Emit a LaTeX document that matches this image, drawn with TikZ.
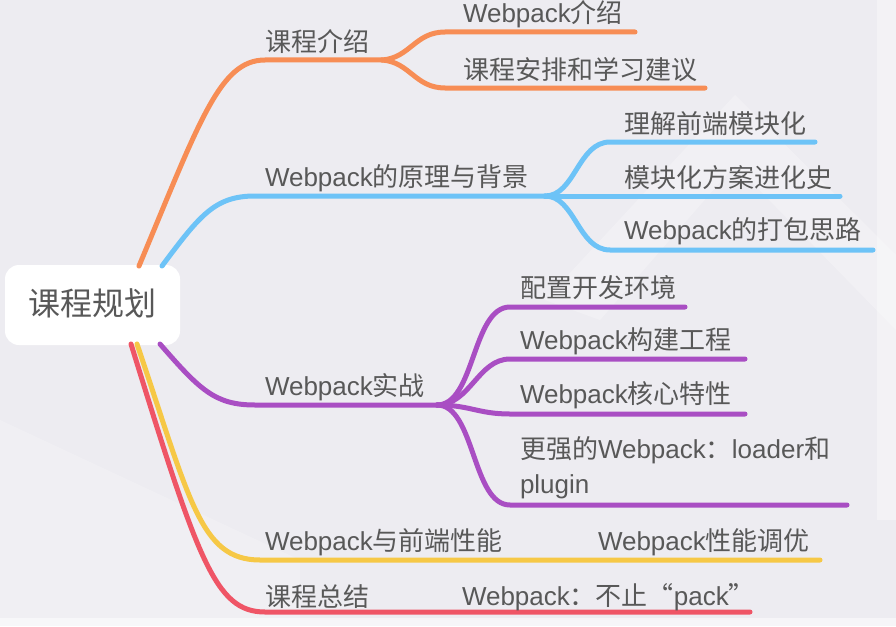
\documentclass[tikz,border=0pt]{standalone}
\usepackage{fontspec}
\setmainfont{Noto Sans CJK SC}
\newfontfamily\lat{Liberation Sans}
\begin{document}
\begin{tikzpicture}[x=1pt,y=-1pt,
  every node/.style={inner sep=0pt,outer sep=0pt,text=textgrey,anchor=west,font=\fontsize{26}{30}\selectfont},
  branch/.style={line width=5pt,line cap=round}]
\definecolor{bg}{HTML}{EDECF1}
\definecolor{textgrey}{HTML}{585858}
\definecolor{cor}{HTML}{F78D55}
\definecolor{cbl}{HTML}{6DC3F7}
\definecolor{cpu}{HTML}{A94EC3}
\definecolor{cye}{HTML}{F6C846}
\definecolor{cre}{HTML}{EF5566}
\useasboundingbox (0,0) rectangle (896,626);
\fill[bg] (0,0) rectangle (896,626);
% faint background chevrons
\fill[white,opacity=0.25] (545,300) -- (735,95) -- (896,255) -- (896,330) -- (735,165) -- (600,320) -- cycle;
\fill[white,opacity=0.2] (0,420) -- (300,560) -- (300,626) -- (0,626) -- cycle;
\fill[white,opacity=0.35] (877,0) rectangle (896,520);
\fill[white,opacity=0.5] (0,618) rectangle (896,626);

% root
\node[fill=white,rounded corners=14pt,minimum width=175pt,minimum height=80pt,anchor=center] (root) at (92.5,305) {};
\node[anchor=center,font=\fontsize{32}{36}\selectfont] (roottxt) at (92,303) {课程规划};

% coordinates
\coordinate (o0) at (139,266);
\coordinate (b0) at (162,266);
\coordinate (p0) at (160,344);
\coordinate (y0) at (137,344);
\coordinate (r0) at (131,344);
\coordinate (of) at (382,60);
\coordinate (bf) at (545,196);
\coordinate (pf) at (437,405);

% orange
\draw[branch,cor] (o0) .. controls (200,120) and (220,60) .. (265,60) -- (of);
\coordinate (o1) at (635,32);
\coordinate (o2) at (705,88);
\draw[branch,cor] (of) .. controls (410,58) and (415,32) .. (445,32) -- (o1);
\draw[branch,cor] (of) .. controls (410,62) and (415,88) .. (445,88) -- (o2);

% blue
\draw[branch,cbl] (b0) .. controls (200,215) and (215,196) .. (255,196) -- (bf);
\coordinate (b1) at (815,142);
\coordinate (b2) at (840,196);
\coordinate (b3) at (873,250);
\draw[branch,cbl] (bf) .. controls (575,196) and (578,142) .. (610,142) -- (b1);
\draw[branch,cbl] (bf) -- (b2);
\draw[branch,cbl] (bf) .. controls (575,196) and (578,250) .. (610,250) -- (b3);

% purple
\draw[branch,cpu] (p0) .. controls (200,390) and (215,405) .. (255,405) -- (pf);
\coordinate (p1) at (685,307);
\coordinate (p2) at (745,359);
\coordinate (p3) at (745,414);
\coordinate (p4) at (847,505);
\draw[branch,cpu] (pf) .. controls (475,405) and (472,307) .. (510,307) -- (p1);
\draw[branch,cpu] (pf) .. controls (470,405) and (478,359) .. (510,359) -- (p2);
\draw[branch,cpu] (pf) .. controls (470,405) and (478,414) .. (510,414) -- (p3);
\draw[branch,cpu] (pf) .. controls (475,405) and (472,505) .. (510,505) -- (p4);

% yellow
\coordinate (y1) at (820,560);
\draw[branch,cye] (y0) .. controls (190,500) and (200,560) .. (260,560) -- (y1);

% red
\coordinate (r1) at (750,612);
\draw[branch,cre] (r0) .. controls (198,560) and (215,612) .. (265,612) -- (r1);

% labels
\node (t1) at (265,42) {课程介绍};
\node (t11) at (463,14) {{\lat Webpack}介绍};
\node (t12) at (463,70) {课程安排和学习建议};
\node (t2) at (265,178) {{\lat Webpack}的原理与背景};
\node (t21) at (624,124) {理解前端模块化};
\node (t22) at (624,178) {模块化方案进化史};
\node (t23) at (624,231) {{\lat Webpack}的打包思路};
\node (t3) at (265,387) {{\lat Webpack}实战};
\node (t31) at (520,288) {配置开发环境};
\node (t32) at (520,341) {{\lat Webpack}构建工程};
\node (t33) at (520,395) {{\lat Webpack}核心特性};
\node (t34a) at (520,450) {更强的{\lat Webpack}：{\lat loader}和};
\node (t34b) at (520,487) {\lat plugin};
\node (t4) at (265,542) {{\lat Webpack}与前端性能};
\node (t41) at (598,542) {{\lat Webpack}性能调优};
\node (t5) at (265,597) {课程总结};
\node (t51) at (462,597) {{\lat Webpack}：不止“{\lat pack}”};
\end{tikzpicture}
\end{document}
